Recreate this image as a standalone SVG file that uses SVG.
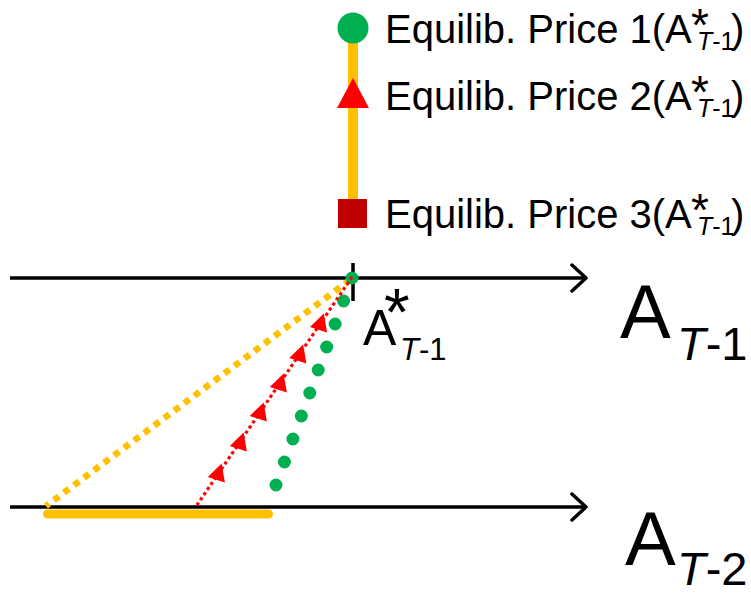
<svg xmlns="http://www.w3.org/2000/svg" width="751" height="596" viewBox="0 0 751 596">
<style>
text{font-family:"Liberation Sans",Arial,sans-serif;fill:#000}
.axis{stroke:#000;stroke-width:3.5;fill:none}
.lg{font-size:40px}
.ast{font-size:46px}
.sub{font-size:25px}
.it{font-style:italic}
</style>
<defs>
<marker id="arr" markerUnits="userSpaceOnUse" markerWidth="20" markerHeight="30" refX="16" refY="15" orient="auto" viewBox="0 0 20 30">
<path d="M2,2 L16,15 L2,28" fill="none" stroke="#000" stroke-width="3.5" stroke-linecap="round" stroke-linejoin="round"/>
</marker>
<polygon id="tri" points="0,-10 9,7 -9,7" fill="#FF0000" transform="rotate(18)"/>
</defs>
<rect width="751" height="596" fill="#fff"/>

<g id="legend">
<line x1="353" y1="28" x2="353" y2="213" stroke="#FFC000" stroke-width="10"/>
<circle cx="353" cy="28" r="15.5" fill="#00B050"/>
<polygon points="353,78 369,108 337,108" fill="#FF0000"/>
<rect x="338" y="199" width="29" height="29" fill="#C00000"/>
<g id="legend-1">
<text class="lg" x="385" y="43">Equilib. Price 1(A</text>
<text class="ast" x="691" y="41">*</text>
<text class="sub" x="697" y="50"><tspan class="it">T</tspan>-1</text>
<text class="lg" x="731" y="43">)</text>
</g>
<g id="legend-2">
<text class="lg" x="385" y="110">Equilib. Price 2(A</text>
<text class="ast" x="691" y="108">*</text>
<text class="sub" x="697" y="117"><tspan class="it">T</tspan>-1</text>
<text class="lg" x="731" y="110">)</text>
</g>
<g id="legend-3">
<text class="lg" x="385" y="228">Equilib. Price 3(A</text>
<text class="ast" x="691" y="226">*</text>
<text class="sub" x="697" y="235"><tspan class="it">T</tspan>-1</text>
<text class="lg" x="731" y="228">)</text>
</g>
</g>

<g id="axis-T1">
<line class="axis" x1="10" y1="278" x2="586" y2="278" marker-end="url(#arr)"/>
<line class="axis" x1="353" y1="263" x2="353" y2="301"/>
<text x="620" y="338" font-size="76">A</text>
<text x="677" y="360" font-size="47"><tspan class="it">T</tspan>-1</text>
</g>
<g id="axis-T2">
<line class="axis" x1="10" y1="507" x2="586" y2="507" marker-end="url(#arr)"/>
<text x="625" y="565" font-size="76">A</text>
<text x="677" y="585" font-size="47"><tspan class="it">T</tspan>-2</text>
</g>
<g id="label-Astar">
<text x="363" y="345" font-size="50">A</text>
<text x="384" y="335" font-size="66">*</text>
<text x="400" y="360" font-size="31"><tspan class="it">T</tspan>-1</text>
</g>

<g id="connectors">
<line x1="47.5" y1="514" x2="268.5" y2="514" stroke="#FFC000" stroke-width="9" stroke-linecap="round"/>
<line x1="350" y1="280" x2="46" y2="506" stroke="#FFC000" stroke-width="6.5" stroke-dasharray="6.5 6"/>
<path d="M352,278 L276,485" fill="none" stroke="#00B050" stroke-width="13" stroke-linecap="round" stroke-dasharray="0 24.5"/>
<line x1="352" y1="277" x2="197" y2="505" stroke="#FF0000" stroke-width="3.2" stroke-dasharray="3.2 3"/>
<use href="#tri" x="320.7" y="323"/>
<use href="#tri" x="300" y="354"/>
<use href="#tri" x="280.5" y="383"/>
<use href="#tri" x="260.5" y="412"/>
<use href="#tri" x="240.5" y="442"/>
<use href="#tri" x="218.5" y="473"/>
</g>
</svg>
